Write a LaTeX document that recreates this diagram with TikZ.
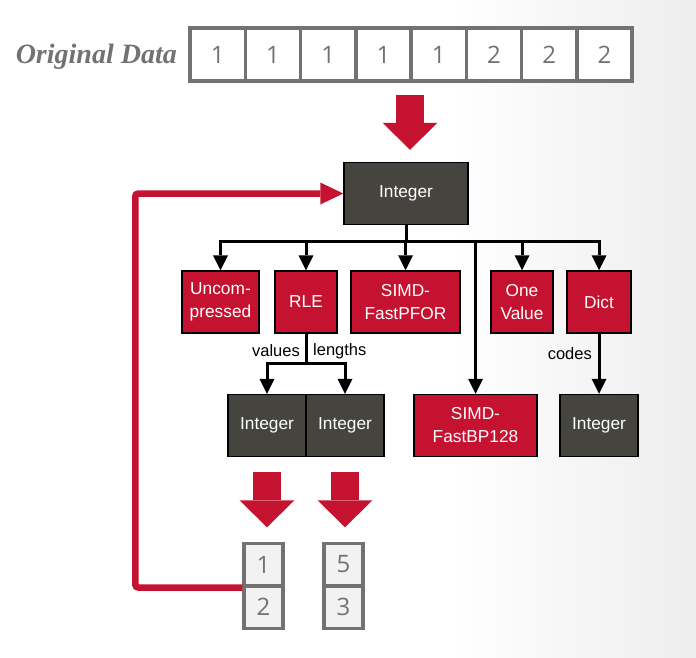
\documentclass[tikz,border=0pt]{standalone}
\usepackage{fontspec}
\setmainfont{Liberation Sans}
\newfontfamily\numfont{Open Sans}
\newfontfamily\titlefont{Liberation Serif}
\usetikzlibrary{arrows.meta}
\definecolor{tumred}{HTML}{C41230}
\definecolor{boxgray}{HTML}{46443F}
\definecolor{cellgray}{HTML}{727272}
\begin{document}
\begin{tikzpicture}[x=1pt,y=-1pt,
  box/.style={draw=black,line width=1.5pt,text=white,inner sep=0pt,minimum height=62pt,align=center,font=\fontsize{17.3}{23}\selectfont},
  intbox/.style={box,fill=boxgray},
  algbox/.style={box,fill=tumred},
  cell/.style={draw=cellgray,fill=white,line width=3.5pt,inner sep=0pt,minimum width=55.25pt,minimum height=53pt,text=cellgray,font=\numfont\fontsize{24}{24}\selectfont},
  smallcell/.style={cell,fill=black!5,minimum width=39pt,minimum height=42.5pt},
  conn/.style={line width=3pt},
  arr/.style={conn,-{Triangle[width=15pt,length=15pt,line width=0pt]}},
  bigarr/.style={tumred,line width=28pt,-{Triangle[width=55pt,length=27pt,line width=0pt]}},
  feedback/.style={tumred,line width=6.5pt,-{Triangle[width=22pt,length=23pt,line width=0pt]}},
  lbl/.style={font=\fontsize{16.5}{16.5}\selectfont,inner sep=0pt}]
\useasboundingbox (0,0) rectangle (696,657);
\shade[left color=white,right color=black!7] (450,0) rectangle (696,657);

\node[anchor=east,text=cellgray,inner sep=0pt,font=\titlefont\bfseries\itshape\fontsize{28}{28}\selectfont] (title) at (177,57) {Original Data};
\foreach \v [count=\i] in {1,1,1,1,1,2,2,2}
  \node[cell] (d\i) at ({190+55.25*(\i-0.5)},54.5) {\v};

\node[intbox,minimum width=124pt] (top) at (406,193.5) {Integer};
\node[algbox,minimum width=77pt] (unc) at (220.5,302) {Uncom-\\pressed};
\node[algbox,minimum width=62pt] (rle) at (306,302) {RLE};
\node[algbox,minimum width=109pt] (pfor) at (405.5,302) {SIMD-\\FastPFOR};
\node[algbox,minimum width=62pt] (one) at (522,302) {One\\Value};
\node[algbox,minimum width=64pt] (dict) at (599,302) {Dict};
\node[intbox,minimum width=78pt] (val) at (267,425.5) {Integer};
\node[intbox,minimum width=78pt] (len) at (345,425.5) {Integer};
\node[algbox,minimum width=123pt] (bp) at (475.5,425.5) {SIMD-\\FastBP128};
\node[intbox,minimum width=78pt] (codes) at (599,425.5) {Integer};

\draw[bigarr] ([xshift=4pt,yshift=67pt]top.north) -- ([xshift=4pt,yshift=12pt]top.north);

\draw[conn] (top.south) -- ++(0,16) coordinate (bus);
\foreach \n in {unc,rle,pfor,bp,one,dict}
  \draw[arr] (bus) -| (\n.north);

\draw[conn] (rle.south) -- ++(0,30) coordinate (split);
\draw[arr] (split) -| (val.north);
\draw[arr] (split) -| (len.north);
\node[lbl,anchor=east] (vallbl) at ([shift={(-6,-13)}]split) {values};
\node[lbl,anchor=west] (lenlbl) at ([shift={(7,-13)}]split) {lengths};

\draw[arr] (dict.south) -- (codes.north);
\node[lbl,anchor=east] (codelbl) at ([shift={(-7,20)}]dict.south) {codes};

\draw[bigarr] ([yshift=-15pt]val.south) -- ([yshift=-70pt]val.south);
\draw[bigarr] ([yshift=-15pt]len.south) -- ([yshift=-70pt]len.south);

\node[smallcell] (v1) at (263.5,564.5) {1};
\node[smallcell] (v2) at (263.5,607) {2};
\node[smallcell] (l1) at (343.5,564.5) {5};
\node[smallcell] (l2) at (343.5,607) {3};

\draw[feedback,rounded corners=3pt] (v1.south west) -- ++(-107,0) |- (top.west);
\end{tikzpicture}
\end{document}
